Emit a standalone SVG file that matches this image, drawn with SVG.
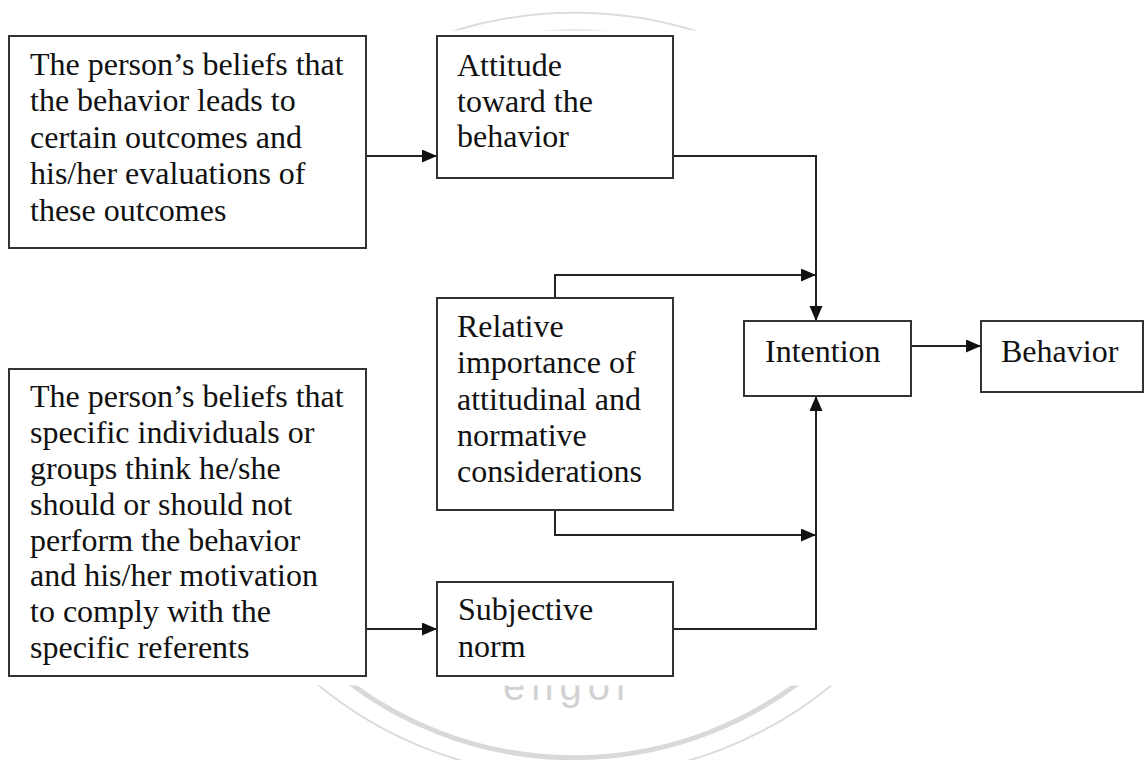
<svg xmlns="http://www.w3.org/2000/svg" width="1145" height="760" viewBox="0 0 1145 760">
  <style>
    .box { fill: #ffffff; stroke: #333333; stroke-width: 2; }
    .lbl { font-family: "Liberation Serif", "Times New Roman", serif; font-size: 32px; fill: #111111; }
    .wire { fill: none; stroke: #222222; stroke-width: 2; }
    .wm-thin { fill: none; stroke: #dcdcdc; stroke-width: 2; }
    .wm-thick { fill: none; stroke: #d9d9d9; stroke-width: 5; }
    .wm-text { font-family: "Liberation Sans", Arial, sans-serif; font-size: 40px; letter-spacing: 6px; fill: #d2d2d2; }
  </style>
  <defs>
    <marker id="arrow" markerUnits="userSpaceOnUse" markerWidth="16" markerHeight="14" refX="15" refY="6.5" orient="auto">
      <path d="M0,0 L15,6.5 L0,13 z" fill="#111111"/>
    </marker>
    <!-- seal shows only above and below the figure area -->
    <clipPath id="sealClip">
      <rect x="0" y="0" width="1145" height="30.5"/>
      <rect x="0" y="685.5" width="1145" height="75"/>
    </clipPath>
  </defs>

  <rect x="0" y="0" width="1145" height="760" fill="#ffffff"/>

  <!-- background seal -->
  <g id="seal" clip-path="url(#sealClip)">
    <ellipse class="wm-thin" cx="575" cy="394.7" rx="395" ry="382"/>
    <ellipse class="wm-thick" cx="574" cy="394.7" rx="369" ry="363"/>
    <text class="wm-text" x="503" y="700">engor</text>
  </g>

  <!-- connectors -->
  <g id="connectors">
    <path class="wire" d="M366,156 H437" marker-end="url(#arrow)"/>
    <path class="wire" d="M673,156 H816 V321" marker-end="url(#arrow)"/>
    <path class="wire" d="M555,298 V275 H816" marker-end="url(#arrow)"/>
    <path class="wire" d="M555,510 V535 H816" marker-end="url(#arrow)"/>
    <path class="wire" d="M366,629 H437" marker-end="url(#arrow)"/>
    <path class="wire" d="M673,629 H816 V396" marker-end="url(#arrow)"/>
    <path class="wire" d="M911,346 H981" marker-end="url(#arrow)"/>
  </g>

  <g id="behavioral-beliefs">
    <rect class="box" x="9" y="36" width="357" height="212"/>
    <text class="lbl" x="30" y="75">The person’s beliefs that</text>
    <text class="lbl" x="30" y="111">the behavior leads to</text>
    <text class="lbl" x="30" y="147.5">certain outcomes and</text>
    <text class="lbl" x="30" y="184">his/her evaluations of</text>
    <text class="lbl" x="30" y="220.5">these outcomes</text>
  </g>

  <g id="attitude">
    <rect class="box" x="437" y="36" width="236" height="142"/>
    <text class="lbl" x="457" y="76">Attitude</text>
    <text class="lbl" x="457" y="111.5">toward the</text>
    <text class="lbl" x="457" y="147">behavior</text>
  </g>

  <g id="relative-importance">
    <rect class="box" x="437" y="298" width="236" height="212"/>
    <text class="lbl" x="457" y="337">Relative</text>
    <text class="lbl" x="457" y="373">importance of</text>
    <text class="lbl" x="457" y="409.5">attitudinal and</text>
    <text class="lbl" x="457" y="445.5">normative</text>
    <text class="lbl" x="457" y="482">considerations</text>
  </g>

  <g id="normative-beliefs">
    <rect class="box" x="9" y="369" width="357" height="307"/>
    <text class="lbl" x="30" y="407">The person’s beliefs that</text>
    <text class="lbl" x="30" y="443">specific individuals or</text>
    <text class="lbl" x="30" y="479">groups think he/she</text>
    <text class="lbl" x="30" y="514.5">should or should not</text>
    <text class="lbl" x="30" y="550.5">perform the behavior</text>
    <text class="lbl" x="30" y="586">and his/her motivation</text>
    <text class="lbl" x="30" y="622">to comply with the</text>
    <text class="lbl" x="30" y="657.5">specific referents</text>
  </g>

  <g id="subjective-norm">
    <rect class="box" x="437" y="582" width="236" height="94"/>
    <text class="lbl" x="458" y="620">Subjective</text>
    <text class="lbl" x="458" y="656.5">norm</text>
  </g>

  <g id="intention">
    <rect class="box" x="744" y="321" width="167" height="75"/>
    <text class="lbl" x="765" y="361.5">Intention</text>
  </g>

  <g id="behavior">
    <rect class="box" x="981" y="321" width="162" height="71"/>
    <text class="lbl" x="1001" y="361.5">Behavior</text>
  </g>
</svg>
